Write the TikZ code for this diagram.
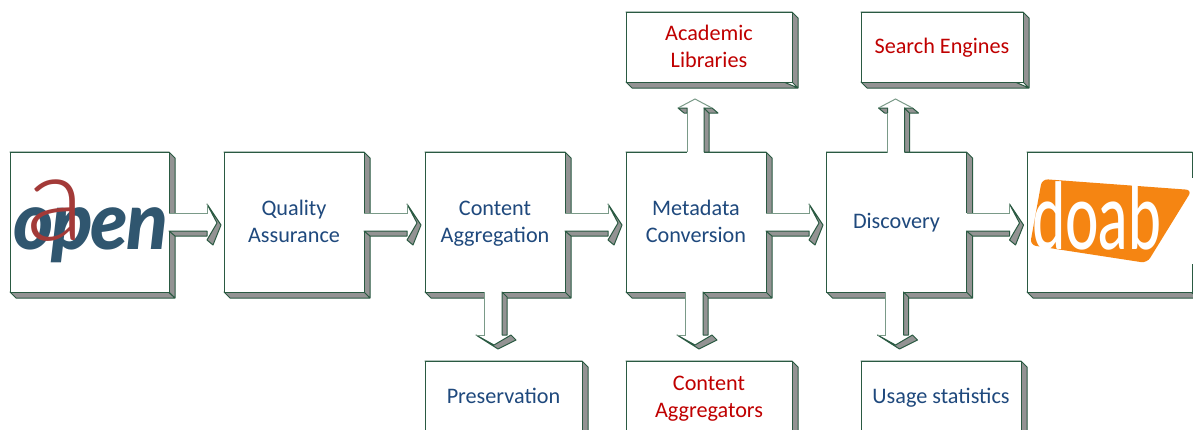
\documentclass[tikz,border=0pt]{standalone}
\usepackage{fontspec}
\setmainfont{Carlito}
\newfontfamily\logoopen[LetterSpace=-3]{Lato Black Italic}
\newfontfamily\logoa{Lato Light}
\newfontfamily\logodoab{Lato Medium}
\definecolor{edgedark}{HTML}{2A5A42}
\definecolor{edgelight}{HTML}{7A9A88}
\definecolor{depth}{HTML}{939393}
\definecolor{textblue}{HTML}{1F497D}
\definecolor{textred}{HTML}{C00000}
\definecolor{openblue}{HTML}{30566F}
\definecolor{openred}{HTML}{A33A38}
\definecolor{doaborange}{HTML}{F58512}
\newcommand{\lineprop}{\rule[-2.6pt]{0pt}{12pt}}
\tikzset{
  x=0.5pt,y=-0.5pt,
  panel/.style={draw=edgedark,fill=white,line width=0.5pt,inner sep=0pt,outer sep=0pt,align=center,font=\fontsize{11.1}{13.4}\selectfont},
  blue text/.style={text=textblue},
  red text/.style={text=textred},
  depthface/.style={fill=depth,draw=edgedark,line width=0.5pt,line join=round},
  arrowface/.style={draw=edgelight,line width=0.5pt,line join=miter},
}
% name, x0, y0, x1, y1, style, text
\newcommand{\panelbox}[7]{%
  \draw[depthface] (#2,#3) -- (#2+6,#3+6) -- (#4+6,#5+6) -- (#2+6,#5+6) -- (#2,#5) -- (#4,#5) -- (#4+6,#5+6) -- (#4+6,#3+6) -- (#4,#3) -- cycle;
  \node[panel,#6,minimum width={(#4-#2)*0.5pt},minimum height={(#5-#3)*0.5pt}] (#1) at ({(#2+#4)/2},{(#3+#5)/2}) {#7};
}
% source node, shaft length
\newcommand{\arrowright}[2]{%
  \begin{scope}[shift={(#1.east)}]
    \fill[white] (-1,-9) -- (#2,-9) -- (#2,-18) -- (#2+10,1) -- (#2,18) -- (#2,9) -- (-1,9) -- cycle;
    \draw[depthface] (0,9) -- (#2,9) -- (#2,14) -- (6,14) -- cycle;
    \draw[depthface] (#2,-18) -- (#2+14,3) -- (#2+6,23) -- (#2,18) -- (#2+10,1) -- cycle;
    \draw[arrowface] (0,-9) -- (#2,-9) -- (#2,-18);
  \end{scope}}
\newcommand{\arrowdown}[1]{%
  \begin{scope}[shift={(#1.south)}]
    \fill[white] (-11,-1) -- (7,-1) -- (7,43) -- (16,43) -- (-1,53) -- (-19,43) -- (-11,43) -- cycle;
    \draw[depthface] (7,0) -- (12,5) -- (12,43) -- (7,43) -- cycle;
    \draw[depthface] (-19,43) -- (3,57) -- (21,48) -- (16,43) -- (-1,53) -- cycle;
    \draw[arrowface] (-11,0) -- (-11,43) -- (-19,43);
  \end{scope}}
\newcommand{\arrowup}[1]{%
  \begin{scope}[shift={(#1.north)}]
    \fill[white] (-9,1) -- (-9,-44) -- (-18,-44) -- (-1,-53) -- (16,-44) -- (8,-44) -- (8,1) -- cycle;
    \draw[depthface] (8,-44) -- (13,-39) -- (13,0) -- (8,0) -- cycle;
    \draw[depthface] (8,-44) -- (16,-44) -- (22,-39) -- (13,-39) -- cycle;
    \draw[depthface] (-18,-44) -- (-9,-44) -- (-9,-39) -- (-12,-39) -- cycle;
    \draw[arrowface] (-9,0) -- (-9,-39);
    \draw[arrowface] (-18,-44) -- (-1,-53) -- (16,-44);
  \end{scope}}
\begin{document}
\begin{tikzpicture}
\path[use as bounding box,clip] (0,0) rectangle (1193,429);
\fill[white] (0,0) rectangle (1193,429);
\panelbox{open}{10}{152}{169}{292}{}{}
\panelbox{qa}{224}{152}{364}{292}{blue text}{\lineprop Quality\\\lineprop Assurance}
\panelbox{agg}{425}{152}{565}{292}{blue text}{\lineprop Content\\\lineprop Aggregation}
\panelbox{meta}{626}{152}{766}{292}{blue text}{\lineprop Metadata\\\lineprop Conversion}
\panelbox{disc}{826.5}{152}{966.5}{292}{blue text}{\lineprop Discovery}
\panelbox{doabbox}{1027}{152}{1192}{292}{}{}
\panelbox{acad}{626}{12}{792}{82}{red text}{\lineprop Academic\\\lineprop Libraries}
\panelbox{search}{861}{12}{1023}{82}{red text}{\lineprop Search Engines}
\panelbox{pres}{425}{361}{582}{433}{blue text}{\lineprop Preservation}
\panelbox{caggr}{626}{361}{792}{433}{red text}{\lineprop Content\\\lineprop Aggregators}
\panelbox{usage}{861}{361}{1021}{433}{blue text}{\lineprop Usage statistics}
\arrowright{open}{38}
\arrowright{qa}{43}
\arrowright{agg}{43}
\arrowright{meta}{43}
\arrowright{disc}{43}
\arrowdown{agg}
\arrowdown{meta}
\arrowdown{disc}
\arrowup{meta}
\arrowup{disc}
% open logo
\node[inner sep=0pt,text=openblue,font=\logoopen\fontsize{40}{40}\selectfont,anchor=base west,xscale=0.96,transform shape] (openword) at (13,249) {open};
\node[inner sep=0pt,text=openred,font=\logoa\fontsize{60}{60}\selectfont,anchor=base] (opena) at (56,240) {a};
% doab logo
\fill[white] (1040,178) rectangle (1193,264);
\fill[doaborange,rounded corners=3pt] (1042,179) -- (1192,190) -- (1147,263) -- (1030,245) -- cycle;
\node[inner sep=0pt,text=white,font=\logodoab\fontsize{46}{46}\selectfont,anchor=base west,xscale=0.64,transform shape] (doabword) at (1032,249) {doab};
\end{tikzpicture}
\end{document}
